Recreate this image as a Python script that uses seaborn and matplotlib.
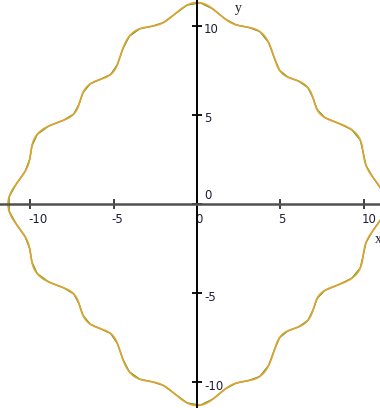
import numpy as np
import pandas as pd
import matplotlib
matplotlib.use("Agg")
import matplotlib.pyplot as plt
import matplotlib.transforms as mtransforms
import seaborn as sns

# Polar curve r(theta) = sum(a_k * cos(k * theta))
harmonics = [0, 4, 16]
amplitudes = [10.0, 1.0, 0.32]

x_ticks = [-10, -5, 0, 5, 10]
y_ticks = [-10, -5, 0, 5, 10]
x_tick_labels = ["-10", "-5", "0", "5", "10"]
y_tick_labels = ["-10", "-5", "0", "5", "10"]

gold = "#dea232"
green = "#3f9a1e"
label_color = "#1e1e3a"


def trace(n):
    t = np.linspace(0.0, 2.0 * np.pi, n)
    r = sum(a * np.cos(k * t) for k, a in zip(harmonics, amplitudes))
    return pd.DataFrame({"x": r * np.cos(t), "y": r * np.sin(t)})


sns.set_theme(style="white")
plt.rcParams["font.family"] = ["DejaVu Sans"]

fig = plt.figure(figsize=(3.8, 4.08), dpi=100)
ax = fig.add_axes([0, 0, 1, 1])
ax.set_facecolor("white")

# coarse green trace underneath, fine gold trace on top
sns.lineplot(data=trace(90), x="x", y="y", sort=False, estimator=None,
             color=green, lw=0.9, ax=ax)
sns.lineplot(data=trace(1500), x="x", y="y", sort=False, estimator=None,
             color=gold, lw=1.25, ax=ax)

ax.set_xlim(-11.8, 10.96)
ax.set_ylim(-11.46, 11.46)

# axes crossing at the origin
for side in ["top", "left"]:
    ax.spines[side].set_visible(False)
ax.spines["bottom"].set_position(("data", 0))
ax.spines["right"].set_position(("data", 0))
ax.spines["bottom"].set_color("#505050")
ax.spines["bottom"].set_linewidth(1.8)
ax.spines["right"].set_color("black")
ax.spines["right"].set_linewidth(1.4)
ax.xaxis.set_ticks_position("bottom")
ax.yaxis.set_ticks_position("right")

ax.set_xticks(x_ticks)
ax.set_xticklabels(x_tick_labels)
ax.set_yticks(y_ticks)
ax.set_yticklabels(y_tick_labels)
ax.tick_params(axis="x", direction="inout", length=7, width=1.3,
               color="#303030", labelsize=8.5, labelcolor=label_color, pad=3)
ax.tick_params(axis="y", direction="inout", length=7, width=1.3,
               color="black", labelsize=8.5, labelcolor=label_color, pad=1.5)
ax.set_xlabel("")
ax.set_ylabel("")

shift_x = mtransforms.ScaledTranslation(-0.02, 0, fig.dpi_scale_trans)
for lab in ax.get_xticklabels():
    lab.set_ha("left")
    lab.set_transform(lab.get_transform() + shift_x)

shift_y = mtransforms.ScaledTranslation(0, 0.025, fig.dpi_scale_trans)
for tick, val in zip(ax.yaxis.get_major_ticks(), y_ticks):
    lab = tick.label2
    lab.set_ha("left")
    if val == 0:
        lab.set_va("bottom")
        lab.set_transform(lab.get_transform()
                          + mtransforms.ScaledTranslation(0, 0.02, fig.dpi_scale_trans))
    else:
        lab.set_va("top")
        lab.set_transform(lab.get_transform() + shift_y)

ax.text(10.84, -2.0, "x", family="Liberation Serif", fontsize=10,
        color="#202020", ha="center", va="center")
ax.text(2.5, 11.0, "y", family="Liberation Serif", fontsize=10,
        color="#202020", ha="center", va="center")

ax.grid(False)
fig.savefig("out.png", dpi=100)
